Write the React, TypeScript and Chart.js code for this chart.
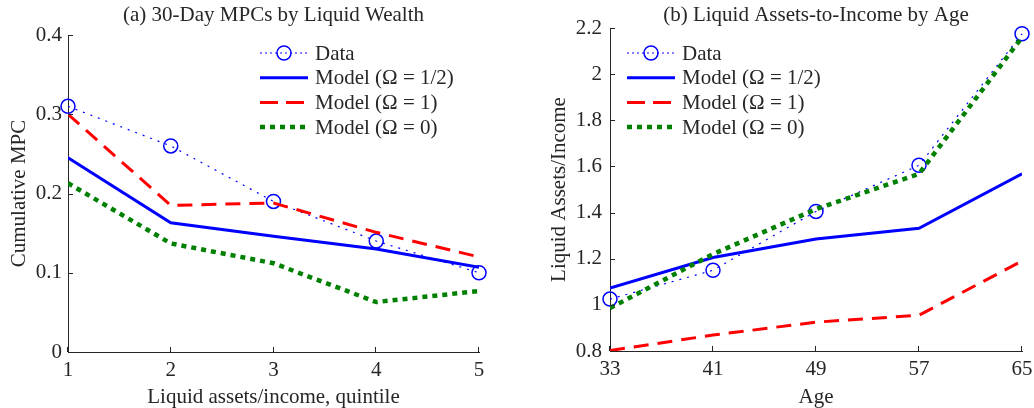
import React, { useEffect, useRef } from "react";
import { Chart, registerables } from "chart.js";
Chart.register(...registerables);

const FONT = "'Liberation Serif', 'Times New Roman', serif";
const FS = 21;
const TEXT = "#262626";
const BLUE = "#0000ff";
const RED = "#ff0000";
const GREEN = "#008000";

// Panel (a): 30-day MPCs by liquid wealth quintile
const quintiles = [1, 2, 3, 4, 5];
const mpcData = [0.31, 0.26, 0.19, 0.14, 0.1];
const mpcHalf = [0.245, 0.163, 0.146, 0.13, 0.107];
const mpcOne = [0.3, 0.185, 0.188, 0.151, 0.12];
const mpcZero = [0.213, 0.137, 0.112, 0.063, 0.077];
const mpcTicks = [0, 0.1, 0.2, 0.3, 0.4];

// Panel (b): liquid assets-to-income by age
const ages = [33, 41, 49, 57, 65];
const laiData = [1.025, 1.15, 1.405, 1.605, 2.175];
const laiHalf = [1.073, 1.205, 1.285, 1.332, 1.568];
const laiOne = [0.802, 0.869, 0.925, 0.955, 1.19];
const laiZero = [0.986, 1.22, 1.415, 1.568, 2.16];
const laiTicks = [0.8, 1, 1.2, 1.4, 1.6, 1.8, 2, 2.2];

const legendLabels = ["Data", "Model (Ω = 1/2)", "Model (Ω = 1)", "Model (Ω = 0)"];

const font = (size: number) => ({ family: FONT, size, weight: "normal" as const });

const decorPlugin = {
  id: "decor",
  afterDraw(chart: any, _args: any, opts: any) {
    const { ctx, chartArea } = chart;
    const xs = chart.scales.x;
    const ys = chart.scales.y;
    ctx.save();
    // inward tick marks
    ctx.strokeStyle = TEXT;
    ctx.lineWidth = 1;
    ctx.setLineDash([]);
    ctx.beginPath();
    xs.ticks.forEach((t: any) => {
      const px = Math.round(xs.getPixelForValue(t.value)) - 0.5;
      ctx.moveTo(px, chartArea.bottom);
      ctx.lineTo(px, chartArea.bottom - 5);
    });
    ys.ticks.forEach((t: any) => {
      const py = Math.round(ys.getPixelForValue(t.value)) + 0.5;
      ctx.moveTo(chartArea.left, py);
      ctx.lineTo(chartArea.left + 5, py);
    });
    ctx.stroke();

    // title
    ctx.fillStyle = TEXT;
    ctx.font = `${FS}px ${FONT}`;
    ctx.textAlign = "center";
    ctx.textBaseline = "middle";
    ctx.fillText(opts.title, (chartArea.left + chartArea.right) / 2, 15);

    // legend
    const x0 = opts.legendX;
    const sampleLen = 48;
    chart.data.datasets.forEach((ds: any, i: number) => {
      const y = opts.legendY + i * 24.7;
      ctx.save();
      ctx.strokeStyle = ds.borderColor;
      ctx.lineWidth = ds.borderWidth;
      ctx.setLineDash(ds.legendDash || ds.borderDash || []);
      ctx.beginPath();
      ctx.moveTo(x0, y);
      ctx.lineTo(x0 + sampleLen, y);
      ctx.stroke();
      if (ds.pointRadius > 0) {
        ctx.setLineDash([]);
        ctx.lineWidth = ds.pointBorderWidth;
        ctx.strokeStyle = ds.pointBorderColor;
        ctx.beginPath();
        ctx.arc(x0 + 24, y, ds.pointRadius, 0, Math.PI * 2);
        ctx.stroke();
      }
      ctx.restore();
      ctx.fillStyle = TEXT;
      ctx.font = `${FS}px ${FONT}`;
      ctx.textAlign = "left";
      ctx.textBaseline = "middle";
      ctx.fillText(legendLabels[i], x0 + 55, y + 1);
    });
    ctx.restore();
  },
};

function makeDatasets(xs: number[], d: number[], half: number[], one: number[], zero: number[]) {
  const pts = (arr: number[]) => xs.map((x, i) => ({ x, y: arr[i] }));
  return [
    {
      label: legendLabels[0],
      data: pts(d),
      borderColor: BLUE,
      borderWidth: 1.2,
      borderDash: [2, 6],
      legendDash: [2, 3],
      pointStyle: "circle",
      pointRadius: 7,
      pointHoverRadius: 7,
      pointBorderWidth: 1.5,
      pointBorderColor: BLUE,
      pointBackgroundColor: "rgba(0,0,0,0)",
      clip: false,
      order: 4,
      tension: 0,
    },
    {
      label: legendLabels[1],
      data: pts(half),
      borderColor: BLUE,
      borderWidth: 3,
      pointRadius: 0,
      order: 3,
      tension: 0,
    },
    {
      label: legendLabels[2],
      data: pts(one),
      borderColor: RED,
      borderWidth: 3,
      borderDash: [15, 9],
      legendDash: [18, 8],
      pointRadius: 0,
      order: 2,
      tension: 0,
    },
    {
      label: legendLabels[3],
      data: pts(zero),
      borderColor: GREEN,
      borderWidth: 4.5,
      borderDash: [5, 5],
      pointRadius: 0,
      order: 1,
      tension: 0,
    },
  ];
}

function makeConfig(p: any) {
  return {
    type: "line",
    data: { datasets: makeDatasets(p.xs, p.d, p.half, p.one, p.zero) },
    plugins: [decorPlugin],
    options: {
      animation: false,
      responsive: false,
      devicePixelRatio: 1,
      events: [],
      layout: { padding: { top: p.top, right: p.right, left: 0, bottom: 0 } },
      plugins: {
        legend: { display: false },
        tooltip: { enabled: false },
        title: { display: false },
        decor: { title: p.title, legendX: p.legendX, legendY: 53 },
      },
      scales: {
        x: {
          type: "linear",
          min: p.xs[0],
          max: p.xs[p.xs.length - 1],
          afterBuildTicks: (s: any) => {
            s.ticks = p.xs.map((v: number) => ({ value: v }));
          },
          ticks: { color: TEXT, font: font(FS), padding: -2, maxRotation: 0, autoSkip: false, callback: (v: any) => String(v) },
          grid: { display: false },
          border: { display: true, color: TEXT, width: 1 },
          title: { display: true, text: p.xTitle, color: TEXT, font: font(FS), padding: { top: 0, bottom: -2.5 } },
          afterFit: (s: any) => {
            s.height = p.xAxisH;
          },
        },
        y: {
          type: "linear",
          min: p.yTicks[0],
          max: p.yTicks[p.yTicks.length - 1],
          afterBuildTicks: (s: any) => {
            s.ticks = p.yTicks.map((v: number) => ({ value: v }));
          },
          ticks: { color: TEXT, font: font(FS), padding: p.yPad, autoSkip: false, callback: (v: any) => String(v) },
          grid: { display: false },
          border: { display: true, color: TEXT, width: 1 },
          title: { display: true, text: p.yTitle, color: TEXT, font: font(FS), padding: { top: p.yTitlePad, bottom: 0 } },
          afterFit: (s: any) => {
            s.width = p.yAxisW;
          },
        },
      },
    },
  };
}

const leftCfg = {
  xs: quintiles, d: mpcData, half: mpcHalf, one: mpcOne, zero: mpcZero, yTicks: mpcTicks,
  title: "(a) 30-Day MPCs by Liquid Wealth",
  xTitle: "Liquid assets/income, quintile",
  yTitle: "Cumulative MPC",
  top: 35, right: 38, xAxisH: 56, yAxisW: 68, yPad: -2, yTitlePad: 7, legendX: 260,
};

const rightCfg = {
  xs: ages, d: laiData, half: laiHalf, one: laiOne, zero: laiZero, yTicks: laiTicks,
  title: "(b) Liquid Assets-to-Income by Age",
  xTitle: "Age",
  yTitle: "Liquid Assets/Income",
  top: 28, right: 12, xAxisH: 57, yAxisW: 93, yPad: 0, yTitlePad: 30, legendX: 110,
};

function Panel({ cfg, left }: { cfg: any; left: number }) {
  const ref = useRef<HTMLCanvasElement | null>(null);
  useEffect(() => {
    if (!ref.current) return;
    const chart = new Chart(ref.current, makeConfig(cfg) as any);
    return () => chart.destroy();
  }, []);
  return (
    <canvas
      ref={ref}
      width={517}
      height={408}
      style={{ position: "absolute", left, top: 0, width: 517, height: 408 }}
    />
  );
}

export default function App() {
  return (
    <div style={{ position: "fixed", left: 0, top: 0, width: 1034, height: 408, background: "#fff", overflow: "hidden" }}>
      <Panel cfg={leftCfg} left={0} />
      <Panel cfg={rightCfg} left={517} />
    </div>
  );
}
